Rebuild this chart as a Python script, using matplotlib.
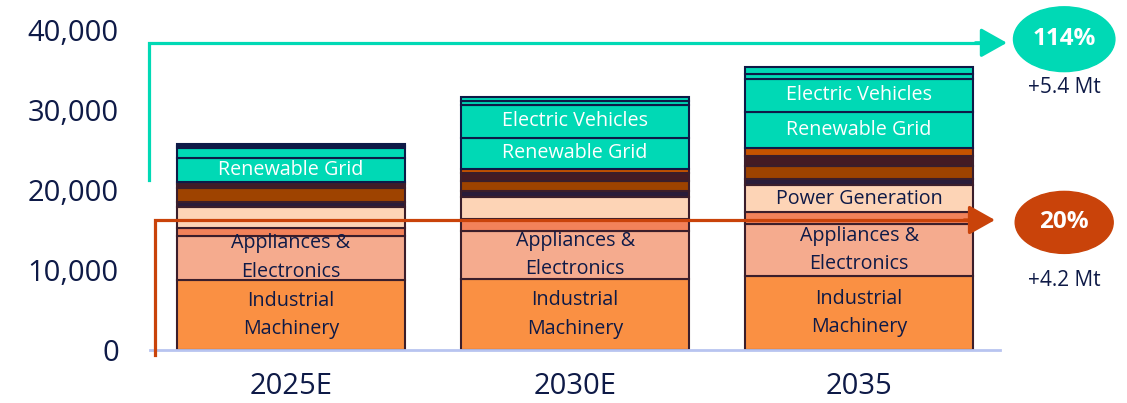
import matplotlib.pyplot as plt
from matplotlib.patches import Ellipse
import numpy as np

plt.rcParams['font.family'] = ['Open Sans', 'DejaVu Sans']

years = ["2025E", "2030E", "2035"]

# stacked segments, bottom to top (kt)
industrial = [8800, 8875, 9250]
appliances = [5500, 6000, 6550]
other_coral = [1000, 1500, 1450]
power_gen = [2550, 2700, 3330]
other_navy = [650, 820, 820]
other_brown = [1700, 1250, 1650]
other_maroon = [550, 930, 1250]
other_rust = [250, 570, 900]
renewable = [3000, 3880, 4600]
ev = [1200, 4090, 4100]
other_teal_a = [300, 480, 650]
other_teal_b = [250, 480, 800]

series = [
    ("Industrial\nMachinery", industrial, "#FA9043", [1, 1, 1]),
    ("Appliances &\nElectronics", appliances, "#F5AB8E", [1, 1, 1]),
    ("", other_coral, "#F2825A", [0, 0, 0]),
    ("Power Generation", power_gen, "#FDD4B6", [0, 0, 1]),
    ("", other_navy, "#2A1C3A", [0, 0, 0]),
    ("", other_brown, "#9E4300", [0, 0, 0]),
    ("", other_maroon, "#441B24", [0, 0, 0]),
    ("", other_rust, "#C55300", [0, 0, 0]),
    ("Renewable Grid", renewable, "#00D9B5", [1, 1, 1]),
    ("Electric Vehicles", ev, "#00D9B5", [0, 1, 1]),
    ("", other_teal_a, "#00D9B5", [0, 0, 0]),
    ("", other_teal_b, "#00D9B5", [0, 0, 0]),
]
teal_start = 8

NAVY = "#0E1A47"
TEAL = "#00D9B5"
RUST = "#C9430A"

fig = plt.figure(figsize=(11.27, 4.03), dpi=100)
ax = fig.add_axes([150 / 1127, 53 / 403, 850 / 1127, 320 / 403])

x = np.arange(len(years))
bottom = np.zeros(len(years))
for i, (name, vals, color, show) in enumerate(series):
    vals = np.array(vals, dtype=float)
    edge = NAVY if i >= teal_start else "#3B1E2B"
    ax.bar(x, vals, 0.8, bottom=bottom, color=color, edgecolor=edge, linewidth=1.5, zorder=2)
    tcol = "white" if i >= teal_start else NAVY
    for j in range(len(years)):
        if show[j]:
            ax.text(x[j], bottom[j] + vals[j] / 2, name, ha="center", va="center",
                    fontsize=14.2, color=tcol, linespacing=1.55, zorder=4)
    bottom += vals

ax.set_xlim(-0.4965, 2.496)
ax.set_ylim(0, 40000)
ax.set_yticks([0, 10000, 20000, 30000, 40000])
ax.set_yticklabels([f"{v:,}" for v in [0, 10000, 20000, 30000, 40000]])
ax.set_xticks(x)
ax.set_xticklabels(years)
ax.tick_params(axis="both", length=0, labelsize=21, colors=NAVY)
ax.tick_params(axis="y", pad=22.5)
ax.tick_params(axis="x", pad=16)
for s in ["top", "right", "left"]:
    ax.spines[s].set_visible(False)
ax.spines["bottom"].set_color("#B8C4F0")
ax.spines["bottom"].set_linewidth(2)

# growth arrows
ax.plot([-0.5, -0.5, 2.46], [21200, 38400, 38400], color=TEAL, lw=2.3, clip_on=False, zorder=3,
        solid_joinstyle="miter")
ax.annotate("", xy=(2.53, 38400), xytext=(2.40, 38400),
            arrowprops=dict(arrowstyle="-|>,head_length=0.8,head_width=0.45", color=TEAL, lw=2.3,
                            mutation_scale=20), annotation_clip=False)
ax.plot([-0.479, -0.479, 2.42], [-650, 16250, 16250], color=RUST, lw=2.3, clip_on=False, zorder=3,
        solid_joinstyle="miter")
ax.annotate("", xy=(2.488, 16250), xytext=(2.36, 16250),
            arrowprops=dict(arrowstyle="-|>,head_length=0.8,head_width=0.45", color=RUST, lw=2.3,
                            mutation_scale=20), annotation_clip=False)

ax.add_patch(Ellipse((2.722, 38850), 0.357, 8100, color=TEAL, clip_on=False, zorder=3))
ax.text(2.722, 38850, "114%", ha="center", va="center", fontsize=17.5, fontweight="bold", color="white")
ax.text(2.722, 32800, "+5.4 Mt", ha="center", va="center", fontsize=15, color=NAVY)

ax.add_patch(Ellipse((2.722, 15950), 0.345, 7750, color=RUST, clip_on=False, zorder=3))
ax.text(2.722, 15950, "20%", ha="center", va="center", fontsize=17.5, fontweight="bold", color="white")
ax.text(2.722, 8750, "+4.2 Mt", ha="center", va="center", fontsize=15, color=NAVY)

fig.savefig("out.png", dpi=100)
